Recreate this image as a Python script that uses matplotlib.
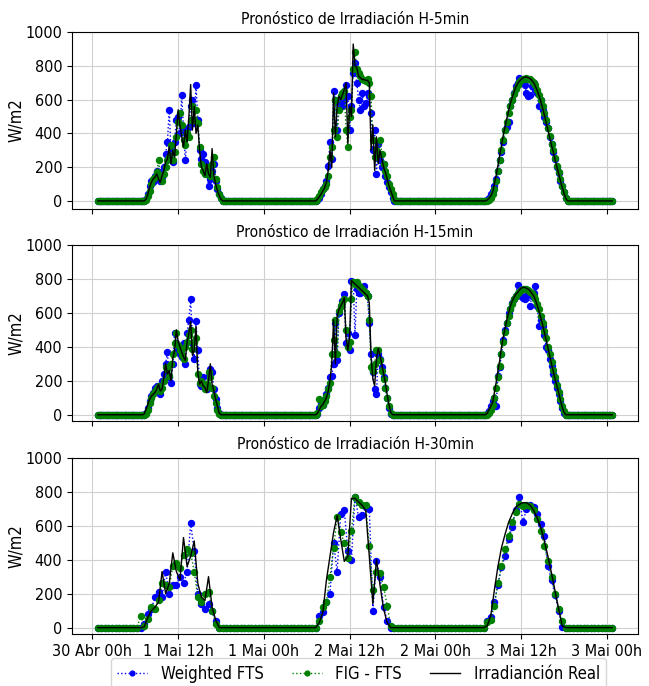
import numpy as np
import matplotlib
matplotlib.use('Agg')
import matplotlib.pyplot as pl

pl.rcParams['font.stretch'] = 'condensed'

# ------------------------------------------------------[data]----------------------------------------------------------
# irradiance in W/m2, one list per day, first value at 06h00 after the first sample; the rest of the day is 0
T0 = 0.75          # first sample, hours after the first tick
DAY_START = 6.0

# H-5min panel (15 min step)
h5_real_d1 = [0, 0, 0, 10, 40, 80, 110, 130, 140, 160, 130, 110, 150, 180, 230, 250, 320, 220, 300, 260, 400, 540, 450,
              380, 320, 420, 350, 500, 690, 420, 560, 400, 450, 300, 200, 180, 150, 220, 160, 140, 310, 150, 100, 60,
              30, 10, 0]
h5_wfts_d1 = [0, 0, 0, 10, 40, 90, 120, 110, 150, 180, 170, 120, 140, 200, 280, 350, 540, 300, 230, 350, 480, 500, 400,
              630, 420, 240, 380, 440, 560, 600, 460, 690, 480, 300, 250, 280, 230, 170, 90, 130, 180, 220, 120, 70,
              40, 15, 0]
h5_fig_d1 = [0, 0, 0, 5, 30, 60, 100, 130, 140, 170, 240, 150, 120, 160, 200, 240, 260, 330, 240, 290, 380, 470, 520,
             450, 360, 330, 400, 380, 480, 560, 480, 540, 460, 320, 220, 180, 160, 200, 170, 150, 220, 260, 130, 80,
             40, 15, 0]
h5_real_d2 = [0, 0, 0, 10, 25, 40, 60, 80, 110, 180, 300, 200, 640, 380, 560, 620, 600, 630, 660, 700, 340, 560, 500,
              930, 800, 790, 740, 730, 720, 720, 715, 715, 700, 300, 450, 180, 380, 220, 300, 250, 200, 170, 130, 90,
              60, 30, 0]
h5_wfts_d2 = [0, 0, 0, 5, 20, 40, 70, 90, 120, 210, 350, 250, 650, 600, 420, 580, 620, 560, 600, 690, 620, 420, 560,
              760, 820, 700, 600, 540, 640, 560, 580, 640, 620, 520, 300, 420, 160, 340, 240, 200, 220, 150, 110, 80,
              50, 20, 0]
h5_fig_d2 = [0, 0, 0, 10, 30, 50, 70, 85, 100, 150, 260, 320, 420, 600, 380, 540, 620, 640, 650, 420, 320, 500, 540,
             780, 880, 780, 760, 740, 720, 715, 710, 720, 700, 620, 360, 260, 300, 280, 360, 280, 220, 180, 150, 100,
             70, 40, 10, 0]
h5_real_d3 = [0, 0, 5, 15, 30, 50, 100, 150, 210, 270, 330, 390, 440, 490, 535, 580, 615, 645, 675, 695, 710, 720, 730,
              735, 735, 730, 725, 715, 700, 680, 655, 625, 590, 550, 510, 465, 420, 375, 330, 290, 245, 200, 160, 120,
              80, 45, 15, 0]
h5_wfts_d3 = [0, 0, 5, 20, 40, 60, 90, 130, 180, 240, 290, 350, 420, 440, 470, 560, 600, 640, 680, 700, 730, 715, 720,
              690, 640, 620, 630, 680, 700, 660, 640, 560, 600, 540, 500, 470, 430, 380, 340, 290, 250, 200, 165, 120,
              90, 50, 15, 0]
h5_fig_d3 = [0, 0, 0, 5, 20, 40, 70, 120, 180, 240, 300, 360, 420, 470, 520, 560, 600, 635, 665, 690, 705, 715, 720,
             725, 730, 725, 720, 710, 700, 685, 660, 630, 600, 560, 520, 480, 430, 385, 340, 300, 255, 210, 170, 130,
             90, 55, 20, 0]

# H-15min panel (15 min step)
h15_real_d1 = [0, 0, 5, 30, 60, 90, 110, 120, 130, 150, 180, 140, 150, 220, 300, 240, 260, 200, 330, 380, 500, 430,
               400, 370, 340, 320, 430, 480, 550, 350, 380, 520, 250, 180, 200, 170, 160, 130, 200, 300, 180, 140, 90,
               50, 10, 0]
h15_wfts_d1 = [0, 0, 0, 10, 40, 80, 110, 130, 160, 170, 140, 120, 200, 240, 300, 370, 220, 190, 300, 480, 420, 380,
               360, 340, 420, 300, 480, 560, 680, 420, 330, 550, 380, 180, 170, 220, 170, 150, 230, 270, 250, 150, 90,
               40, 10, 0]
h15_fig_d1 = [0, 0, 0, 5, 30, 70, 100, 120, 140, 160, 170, 140, 160, 200, 280, 270, 230, 300, 360, 420, 480, 410, 380,
              350, 330, 400, 430, 470, 500, 390, 430, 450, 240, 190, 200, 180, 150, 180, 250, 220, 160, 110, 70, 30, 5,
              0]
h15_real_d2 = [0, 0, 0, 10, 30, 50, 60, 80, 100, 140, 200, 300, 560, 300, 580, 620, 640, 660, 690, 450, 380, 460, 790,
               780, 770, 760, 750, 740, 730, 720, 710, 700, 660, 340, 210, 170, 330, 390, 350, 300, 240, 190, 120, 60,
               15, 0]
h15_wfts_d2 = [0, 0, 0, 5, 40, 70, 60, 90, 120, 160, 220, 230, 300, 540, 320, 600, 640, 670, 710, 420, 480, 380, 790,
               780, 470, 740, 720, 720, 740, 760, 720, 700, 540, 360, 250, 150, 120, 360, 330, 280, 220, 160, 100, 40,
               5, 0]
h15_fig_d2 = [0, 0, 0, 10, 90, 50, 60, 80, 110, 150, 190, 360, 440, 560, 360, 610, 640, 660, 680, 500, 400, 430, 680,
              780, 770, 780, 760, 750, 740, 730, 720, 700, 560, 280, 260, 300, 380, 380, 320, 260, 210, 160, 100, 50,
              10, 0]
h15_real_d3 = [0, 0, 10, 30, 50, 70, 130, 190, 260, 320, 400, 460, 510, 560, 600, 640, 670, 690, 710, 720, 735, 745,
               750, 750, 745, 740, 730, 715, 700, 675, 645, 610, 570, 530, 485, 440, 395, 345, 300, 255, 210, 170, 130,
               85, 45, 15, 0]
h15_wfts_d3 = [0, 0, 5, 20, 50, 80, 100, 50, 230, 280, 360, 440, 500, 540, 600, 620, 660, 680, 700, 766, 720, 700, 690,
               680, 700, 720, 640, 700, 720, 760, 640, 520, 560, 520, 470, 400, 380, 330, 290, 240, 200, 160, 120, 80,
               40, 10, 0]
h15_fig_d3 = [0, 0, 0, 10, 30, 60, 100, 160, 220, 290, 360, 430, 490, 540, 580, 620, 655, 680, 700, 715, 725, 735, 740,
              740, 740, 735, 725, 715, 700, 680, 650, 620, 580, 540, 495, 450, 400, 355, 310, 265, 220, 175, 135, 90,
              50, 20, 0]

# H-30min panel (30 min step)
h30_real_d1 = [0, 5, 60, 100, 120, 150, 330, 200, 260, 440, 330, 280, 530, 360, 420, 510, 260, 180, 160, 300, 120, 45, 0]
h30_wfts_d1 = [0, 20, 80, 110, 180, 210, 180, 330, 200, 250, 250, 300, 260, 330, 615, 450, 200, 140, 110, 140, 100, 40,
               0]
h30_fig_d1 = [70, 10, 50, 120, 110, 160, 260, 250, 240, 360, 380, 350, 430, 460, 440, 330, 180, 150, 200, 210, 100, 20,
              0]
h30_real_d2 = [0, 0, 30, 90, 280, 420, 560, 660, 520, 390, 420, 760, 760, 740, 720, 690, 420, 140, 400, 250, 110, 30, 0]
h30_wfts_d2 = [0, 0, 70, 90, 150, 200, 500, 330, 670, 690, 450, 400, 770, 650, 660, 710, 700, 100, 390, 300, 120, 40, 0]
h30_fig_d2 = [0, 0, 40, 120, 150, 300, 470, 650, 560, 500, 410, 570, 770, 740, 720, 720, 480, 220, 330, 320, 240, 130,
              10, 0]
h30_real_d3 = [0, 10, 70, 220, 360, 470, 550, 620, 670, 710, 725, 735, 735, 720, 690, 645, 590, 510, 420, 320, 215, 110,
               10, 0]
h30_wfts_d3 = [0, 40, 65, 150, 250, 355, 420, 520, 595, 690, 770, 620, 700, 720, 710, 670, 610, 540, 360, 280, 190, 100,
               5, 0]
h30_fig_d3 = [0, 35, 45, 130, 260, 360, 460, 540, 620, 680, 725, 715, 720, 715, 690, 640, 570, 480, 390, 300, 200, 110,
              40, 0]

tick_hours = [0, 12, 24, 36, 48, 60, 72]
tick_labels = ['30 Abr 00h', '1 Mai 12h', '1 Mai 00h', '2 Mai 12h', '2 Mai 00h', '3 Mai 12h', '3 Mai 00h']
titles = ['Pronóstico de Irradiación H-5min', 'Pronóstico de Irradiación H-15min',
          'Pronóstico de Irradiación H-30min']


def build_series(days, step):
    # step in minutes, x in hours from the first tick
    n = int(72 * 60 / step) + 1
    t = T0 + np.arange(n) * step / 60.0
    y = np.zeros(n)
    for d, vals in enumerate(days):
        i0 = int(round((24 * d + DAY_START) * 60 / step))
        y[i0:i0 + len(vals)] = vals
    return t, y


panels = [
    (15, [h5_wfts_d1, h5_wfts_d2, h5_wfts_d3], [h5_fig_d1, h5_fig_d2, h5_fig_d3], [h5_real_d1, h5_real_d2, h5_real_d3]),
    (15, [h15_wfts_d1, h15_wfts_d2, h15_wfts_d3], [h15_fig_d1, h15_fig_d2, h15_fig_d3],
     [h15_real_d1, h15_real_d2, h15_real_d3]),
    (30, [h30_wfts_d1, h30_wfts_d2, h30_wfts_d3], [h30_fig_d1, h30_fig_d2, h30_fig_d3],
     [h30_real_d1, h30_real_d2, h30_real_d3]),
]

# PLOT
fig, axes = pl.subplots(3, 1, figsize=(6.49, 6.86), dpi=100, sharex=True)
fig.subplots_adjust(left=0.111, right=0.983, top=0.953, bottom=0.0755, hspace=0.205)

for ax, (step, wfts, fig_fts, real), title in zip(axes, panels, titles):
    t, y_w = build_series(wfts, step)
    _, y_f = build_series(fig_fts, step)
    _, y_r = build_series(real, step)
    ax.plot(t, y_w, color='blue', linestyle=':', linewidth=1, marker='o', markersize=4.3, label='Weighted FTS')
    ax.plot(t, y_f, color='green', linestyle=':', linewidth=1, marker='o', markersize=4.3, label='FIG - FTS')
    ax.plot(t, y_r, color='black', linestyle='-', linewidth=1, label='Irradianción Real')
    ax.set_title(title, fontsize=11.2)
    ax.set_ylabel('W/m2', fontsize=12, labelpad=0)
    ax.set_ylim(top=1000)
    ax.set_yticks([0, 200, 400, 600, 800, 1000])
    ax.grid(True, color='#d0d0d0', linewidth=0.8)
    ax.tick_params(labelsize=11.5)

axes[-1].set_xticks(tick_hours)
axes[-1].set_xticklabels(tick_labels)

handles, labels = axes[0].get_legend_handles_labels()
fig.legend(handles, labels, loc='upper center', ncol=3, bbox_to_anchor=(0.5524, 0.0408), borderaxespad=0,
           fontsize=12, markerscale=0.8, handlelength=1.8, columnspacing=1.7)

pl.savefig('out.png')
